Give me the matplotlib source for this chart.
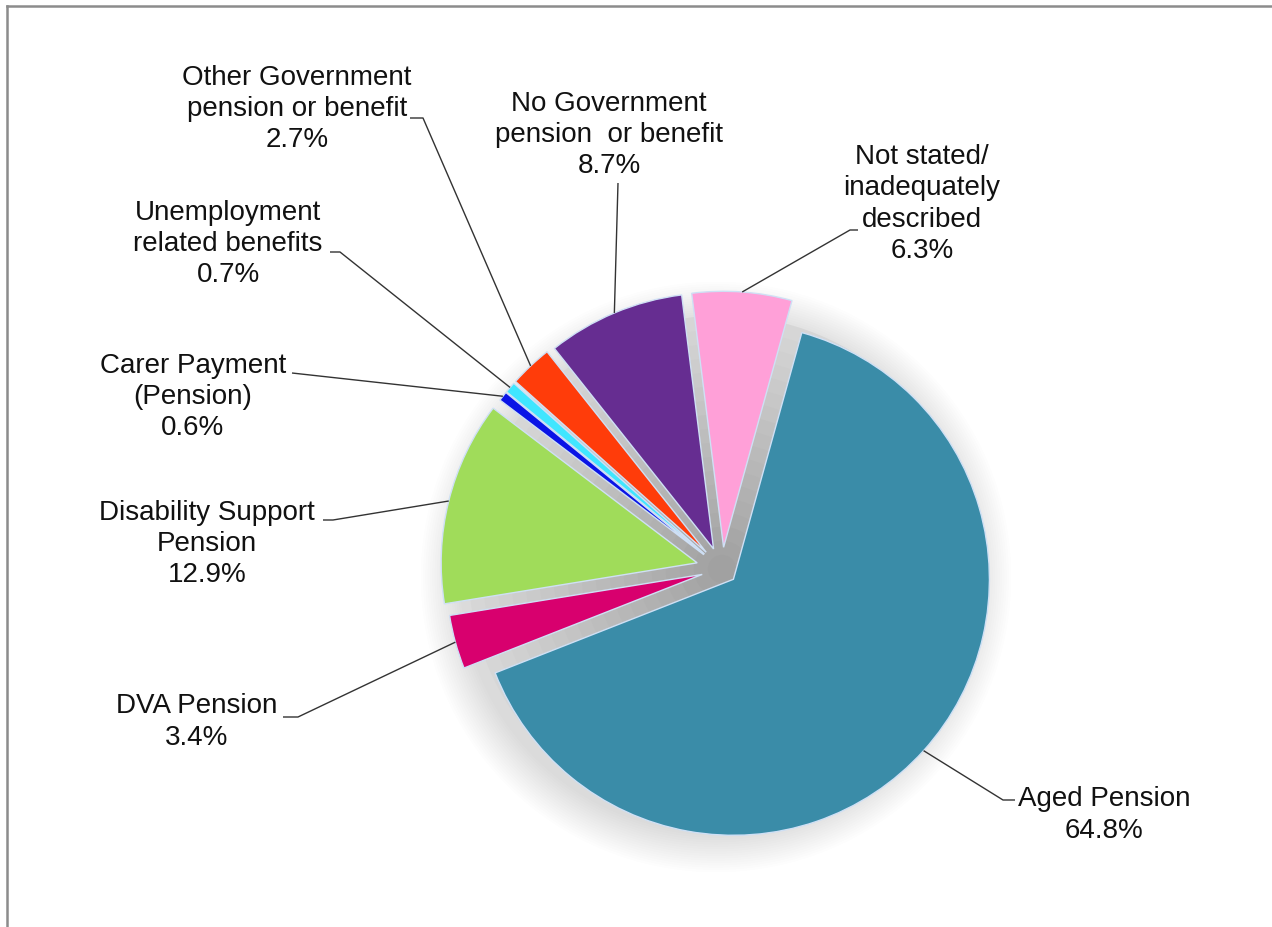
import numpy as np
import matplotlib
matplotlib.use("Agg")
import matplotlib.pyplot as plt
from matplotlib.patches import Circle

# ---------------- data ----------------
categories = ["Aged Pension", "DVA Pension", "Disability Support Pension",
              "Carer Payment (Pension)", "Unemployment related benefits",
              "Other Government pension or benefit",
              "No Government pension or benefit",
              "Not stated/ inadequately described"]
label_texts = ["Aged Pension", "DVA Pension", "Disability Support\nPension",
               "Carer Payment\n(Pension)", "Unemployment\nrelated benefits",
               "Other Government\npension or benefit",
               "No Government\npension  or benefit",
               "Not stated/\ninadequately\ndescribed"]
values = [64.8, 3.4, 12.9, 0.6, 0.7, 2.7, 8.7, 6.3]
colors = ["#3A8CA8", "#D8006E", "#A0DC5A", "#0A14E6", "#40E6FF",
          "#FF3C0A", "#662D91", "#FFA0D8"]
explode = [0.06, 0.08, 0.10, 0.09, 0.09, 0.09, 0.085, 0.085]

# ---------------- layout (pixels) ----------------
W, H = 1272, 927
CX, CY, R = 722, 569, 256
label_xy = [(1104, 815), (197, 722), (207, 544), (193, 397), (228, 244),
            (297, 109), (609, 135), (922, 204)]
leader_start = [(1015, 800), (283, 717), (323, 520), (292, 373), (330, 252),
                (410, 118), (618, 183), (858, 230)]
leader_elbow = [(1003, 800), (298, 717), (333, 520), None, (340, 252),
                (423, 118), None, (850, 230)]


def px(x, y):
    return ((x - CX) / R, (CY - y) / R)


plt.rcParams["font.family"] = ["Liberation Sans", "DejaVu Sans"]
fig = plt.figure(figsize=(W / 100, H / 100), dpi=100)
ax = fig.add_axes([0, 0, 1, 1])

# soft halo shadow
for k in range(18):
    ax.add_patch(Circle(px(CX - 6, CY + 8), 1.0 + 0.009 * k, color="#707070",
                        alpha=0.010, lw=0, zorder=0))

# grey gradient visible in the gaps between slices
n = 18
for k in range(n):
    frac = 1 - k / n
    g = 0.62 + 0.22 * frac
    ax.add_patch(Circle((0, 0), 0.99 * frac, color=(g, g, g), lw=0, zorder=1))

wedges, _ = ax.pie(values, colors=colors, explode=explode, startangle=74.5,
                   counterclock=False, radius=1.0, center=(0, 0), frame=True,
                   wedgeprops=dict(edgecolor="#cfe0f5", linewidth=1.0, zorder=2))
for w in wedges:
    w.set_zorder(2)

# labels + leader lines
for w, txt, v, (lx, ly), s, e in zip(wedges, label_texts, values, label_xy,
                                     leader_start, leader_elbow):
    ax.text(*px(lx, ly), f"{txt}\n{v:.1f}%", ha="center", va="center",
            multialignment="center", fontsize=20, color="#111111",
            linespacing=1.27, zorder=5)
    mid = np.deg2rad((w.theta1 + w.theta2) / 2)
    ax_pt = (w.center[0] + w.r * np.cos(mid), w.center[1] + w.r * np.sin(mid))
    pts = [px(*s)]
    if e is not None:
        pts.append(px(*e))
    pts.append(ax_pt)
    xs, ys = zip(*pts)
    ax.plot(xs, ys, color="#333333", lw=1.0, zorder=4, solid_capstyle="butt")

# frame lines (left and top)
ax.plot([px(7, 6)[0], px(7, H)[0]], [px(7, 6)[1], px(7, H)[1]],
        color="#8c8c8c", lw=1.8, clip_on=False, zorder=6)
ax.plot([px(7, 6)[0], px(W, 6)[0]], [px(7, 6)[1], px(W, 6)[1]],
        color="#8c8c8c", lw=1.8, clip_on=False, zorder=6)

x0, y0 = px(0, H)
x1, y1 = px(W, 0)
ax.set_xlim(x0, x1)
ax.set_ylim(y0, y1)
ax.set_aspect("auto")
ax.axis("off")

fig.savefig("out.png", dpi=100, facecolor="white")
